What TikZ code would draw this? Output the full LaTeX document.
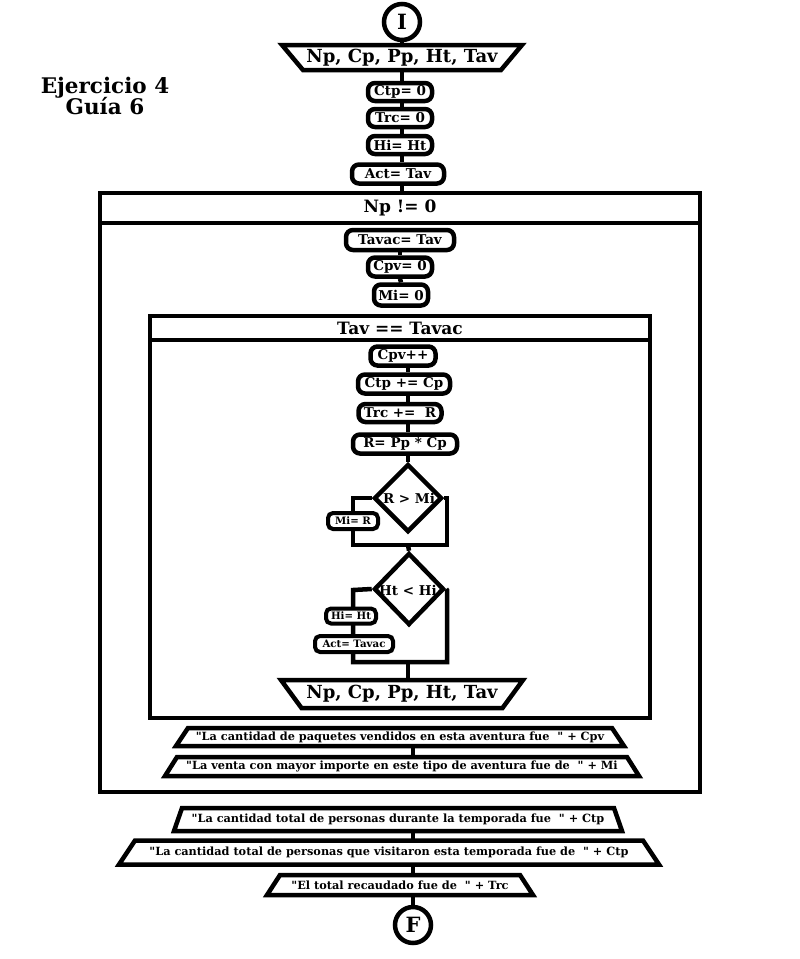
\documentclass[tikz,border=0pt]{standalone}
\usepackage{fontspec}
\setmainfont{DejaVu Serif}
\usetikzlibrary{shapes.geometric}
\newcommand\trapz[7]{%
  \draw[ln,fill=white] ({#2-#4},{#3-#6}) -- ({#2+#4},{#3-#6}) -- ({#2+#5},{#3+#6}) -- ({#2-#5},{#3+#6}) -- cycle;
  \node[inner sep=0pt, outer sep=0pt, minimum height={2*#6pt}] (#1) at (#2,#3) {#7};%
}
\newcommand\qq{\textquotedbl}
\tikzset{
  ln/.style={line width=4.5pt, line join=miter},
  proc/.style={draw, line width=4.5pt, rounded corners=7pt, fill=white, inner sep=0pt, font=\fontsize{13.5}{15}\selectfont\bfseries},
  small/.style={proc, line width=4pt, rounded corners=5pt, font=\fontsize{10.2}{12}\selectfont\bfseries},
  term/.style={circle, draw, line width=4.5pt, fill=white, inner sep=0pt, minimum size=36pt, font=\fontsize{21}{23}\selectfont\bfseries},
  loopbox/.style={draw, line width=4.5pt, inner sep=0pt},
  dia/.style={diamond, draw, line width=4.5pt, fill=white, inner sep=0pt},
  big/.style={font=\fontsize{17}{19}\selectfont\bfseries},
  dtext/.style={font=\fontsize{13.5}{15}\selectfont\bfseries, inner sep=0pt},
}
\begin{document}
\begin{tikzpicture}[x=1pt, y=-1pt]
\useasboundingbox (0,0) rectangle (800,959);
\fill[white] (0,0) rectangle (800,959);

% title
\node[font=\fontsize{21.5}{24}\selectfont\bfseries, align=center, inner sep=0pt] (title) at (105,96) {Ejercicio 4\\[-3pt]Guía 6};

% loop boxes
\node[loopbox, minimum width=600pt, minimum height=599pt] (outer) at (400,492.5) {};
\node[loopbox, minimum width=600pt, minimum height=30pt, big] (outerhead) at (400,208) {Np != 0};
\node[loopbox, minimum width=500pt, minimum height=402pt] (inner) at (400,517) {};
\node[loopbox, minimum width=500pt, minimum height=24pt, big] (innerhead) at (400,328) {Tav == Tavac};

% top column
\node[term] (i) at (402,22) {I};
\trapz{inp}{402}{57.5}{120}{99}{12.5}{\fontsize{18}{20}\selectfont\bfseries Np, Cp, Pp, Ht, Tav}
\node[proc, minimum width=64pt, minimum height=18pt] (ctp) at (400,92) {Ctp= 0};
\node[proc, minimum width=64pt, minimum height=18pt] (trc) at (400,118) {Trc= 0};
\node[proc, minimum width=64pt, minimum height=18pt] (hi) at (400,145) {Hi= Ht};
\node[proc, minimum width=92pt, minimum height=19pt] (act) at (398,174) {Act= Tav};

\draw[ln] (i.south) -- (inp.north -| i.center);
\draw[ln] (inp.south -| i.center) -- (ctp.north -| i.center);
\draw[ln] (ctp.south -| i.center) -- (trc.north -| i.center);
\draw[ln] (trc.south -| i.center) -- (hi.north -| i.center);
\draw[ln] (hi.south -| i.center) -- (act.north -| i.center);
\draw[ln] (act.south -| i.center) -- (outerhead.north -| i.center);

% outer loop body
\node[proc, minimum width=108pt, minimum height=20pt] (tavac) at (400,240) {Tavac= Tav};
\node[proc, minimum width=64pt, minimum height=19pt] (cpv) at (400,267) {Cpv= 0};
\node[proc, minimum width=54pt, minimum height=21pt] (mi) at (401,295) {Mi= 0};
\draw[ln] (tavac.south) -- (cpv.north);
\draw[ln] (cpv.south) -- (mi.north);

% inner loop body
\node[proc, minimum width=65pt, minimum height=19pt] (cpvpp) at (403,356) {Cpv++};
\node[proc, minimum width=92pt, minimum height=19pt] (ctppc) at (404,384) {Ctp += Cp};
\node[proc, minimum width=83pt, minimum height=18pt] (trcr) at (400,413) {Trc +=\ \ R};
\node[proc, minimum width=104pt, minimum height=19pt] (rpp) at (405,444) {R= Pp * Cp};

\node[dia, minimum width=68pt, minimum height=68pt] (d1) at (408,498) {};
\node[dtext] (d1t) at (409,498) {R > Mi};
\node[dia, minimum width=70pt, minimum height=72pt] (d2) at (409,589) {};
\node[dtext] (d2t) at (408,590) {Ht < Hi};

\draw[ln] (cpvpp.south -| d1.center) -- (ctppc.north -| d1.center);
\draw[ln] (ctppc.south -| d1.center) -- (trcr.north -| d1.center);
\draw[ln] (trcr.south -| d1.center) -- (rpp.north -| d1.center);
\draw[ln] (rpp.south -| d1.center) -- (d1.north);

\coordinate (l1) at (353,498);
\coordinate (j1l) at (353,545);
\coordinate (j1) at (408,545);
\coordinate (j1r) at (447,545);
\coordinate (r1) at (447,498);
\draw[ln] (d1.west) -- (l1) -- (j1l) -- (j1r) -- (r1) -- (d1.east);
\draw[ln] (j1) -- (d2.north);
\node[small, minimum width=50pt, minimum height=16pt] (mir) at (353,521) {Mi= R};

\coordinate (l2) at (353,590);
\coordinate (j2l) at (353,662);
\coordinate (j2) at (408,662);
\coordinate (j2r) at (447,662);
\coordinate (r2) at (447,590);
\draw[ln] (d2.west) -- (l2) -- (j2l) -- (j2r) -- (r2) -- (d2.east);
\node[small, minimum width=50pt, minimum height=15pt] (hiht) at (351,616) {Hi= Ht};
\node[small, minimum width=78pt, minimum height=16pt] (acttavac) at (354,644) {Act= Tavac};

\trapz{inp2}{402}{694}{121}{100.5}{14}{\fontsize{18}{20}\selectfont\bfseries Np, Cp, Pp, Ht, Tav}
\draw[ln] (j2) -- (inp2.north -| j2);

% prints
\trapz{p1}{400}{737}{212}{224}{9}{\fontsize{11.3}{13}\selectfont\bfseries \qq La cantidad de paquetes vendidos en esta aventura fue\ \ \qq\ + Cpv}
\trapz{p2}{402}{766.5}{225}{237}{9.5}{\fontsize{11.3}{13}\selectfont\bfseries \qq La venta con mayor importe en este tipo de aventura fue de\ \ \qq\ + Mi}

\trapz{p3}{398}{819.5}{216}{224}{11.5}{\fontsize{11.3}{13}\selectfont\bfseries \qq La cantidad total de personas durante la temporada fue\ \ \qq\ + Ctp}
\trapz{p4}{389}{852.5}{254}{270}{12}{\fontsize{11.3}{13}\selectfont\bfseries \qq La cantidad total de personas que visitaron esta temporada fue de\ \ \qq\ + Ctp}
\trapz{p5}{400}{885}{120}{133}{10}{\fontsize{11.3}{13}\selectfont\bfseries \qq El total recaudado fue de\ \ \qq\ + Trc}
\node[term] (f) at (413,925) {F};

\draw[ln] (p1.south -| f.center) -- (p2.north -| f.center);
\draw[ln] (p3.south -| f.center) -- (p4.north -| f.center);
\draw[ln] (p4.south -| f.center) -- (p5.north -| f.center);
\draw[ln] (p5.south -| f.center) -- (f.north);
\end{tikzpicture}
\end{document}
